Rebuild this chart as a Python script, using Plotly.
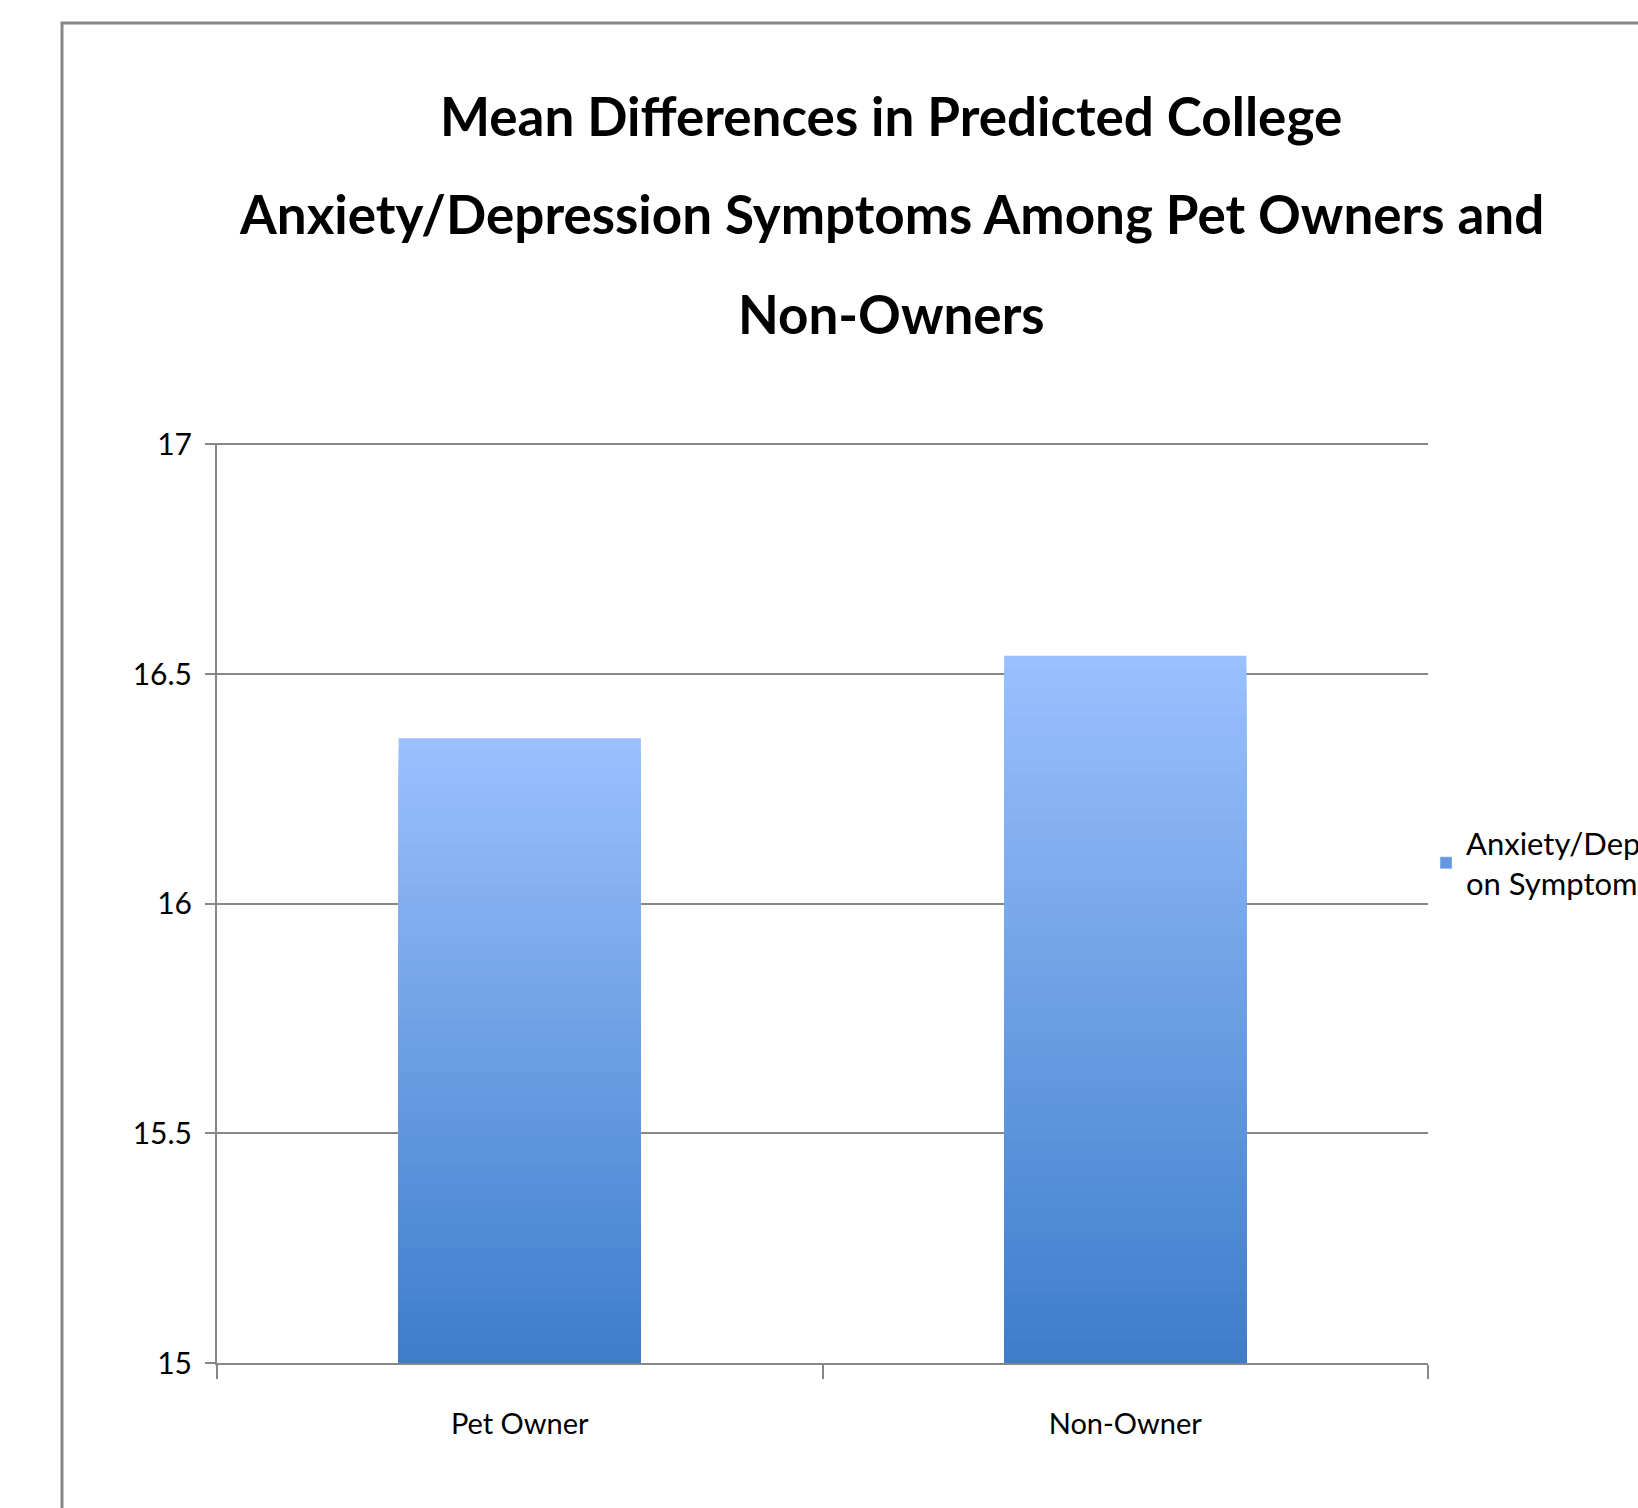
import plotly.graph_objects as go

# ---- data ----
categories = ["Pet Owner", "Non-Owner"]
values = [16.36, 16.54]
series_name = "Anxiety/Depressi<br>on Symptoms"
title_lines = [
    "Mean Differences in Predicted College",
    "Anxiety/Depression Symptoms Among Pet Owners and",
    "Non-Owners",
]
y_ticks = [15, 15.5, 16, 16.5, 17]
y_tick_labels = ["15", "15.5", "16", "16.5", "17"]

# ---- layout geometry (pixels) ----
W, H = 1638, 1508
L, R, T, B = 217, 1428, 443, 1363
PW, PH = R - L, B - T
BASE = 15
FONT = "Lato, sans-serif"


def px_x(x):
    return (x - L) / PW


def px_y(y):
    return (B - y) / PH


top_rgb = (154, 192, 254)
bot_rgb = (61, 124, 202)
N = 60

fig = go.Figure()
for k in range(N):
    f = 1 - k / N          # fraction of bar height covered by this slice
    c = tuple(round(bot_rgb[i] + (top_rgb[i] - bot_rgb[i]) * f) for i in range(3))
    fig.add_trace(go.Bar(
        x=categories,
        y=[(v - BASE) * f for v in values],
        base=BASE,
        marker=dict(color="rgb(%d,%d,%d)" % c, line=dict(width=0)),
        showlegend=False,
        hoverinfo="skip" if k else None,
        name=series_name.replace("<br>", ""),
    ))

# legend-only trace
fig.add_trace(go.Bar(
    x=[None], y=[None], name=series_name,
    marker=dict(color="rgb(100,150,225)"), showlegend=True,
))

annotations = []
for line, yc in zip(title_lines, [115, 214, 313]):
    annotations.append(dict(
        text="<b>" + line + "</b>", x=px_x(891), y=px_y(yc), xref="paper", yref="paper",
        xanchor="center", yanchor="middle", showarrow=False,
        font=dict(family=FONT, size=53, color="#000000"),
    ))

fig.update_layout(
    width=W, height=H,
    margin=dict(l=L, r=W - R, t=T, b=H - B, autoexpand=False),
    paper_bgcolor="white", plot_bgcolor="white",
    barmode="overlay", bargap=0.6,
    annotations=annotations,
    showlegend=True,
    legend=dict(
        x=px_x(1426), y=px_y(863), xanchor="left", yanchor="middle",
        font=dict(family=FONT, size=31, color="#000000"),
        bgcolor="rgba(0,0,0,0)",
    ),
    shapes=[dict(
        type="rect", xref="paper", yref="paper",
        x0=px_x(62), x1=px_x(W + 20), y0=px_y(H + 20), y1=px_y(23),
        line=dict(color="#878787", width=3), fillcolor="rgba(0,0,0,0)",
        layer="below",
    )],
    xaxis=dict(
        showline=True, linecolor="#878787", linewidth=2,
        ticks="outside", tickson="boundaries", ticklen=14, tickwidth=2, tickcolor="#878787",
        tickfont=dict(family=FONT, size=29, color="#000000"),
        showgrid=False, ticklabelstandoff=34,
    ),
    yaxis=dict(
        range=[15, 17.003], tickvals=y_ticks, ticktext=y_tick_labels,
        showline=True, linecolor="#878787", linewidth=2,
        ticks="outside", ticklen=10, tickwidth=2, tickcolor="#878787",
        showgrid=True, gridcolor="#878787", gridwidth=2,
        tickfont=dict(family=FONT, size=30, color="#000000"),
        zeroline=False, ticklabelstandoff=7,
    ),
)

fig.write_html("out.html")
